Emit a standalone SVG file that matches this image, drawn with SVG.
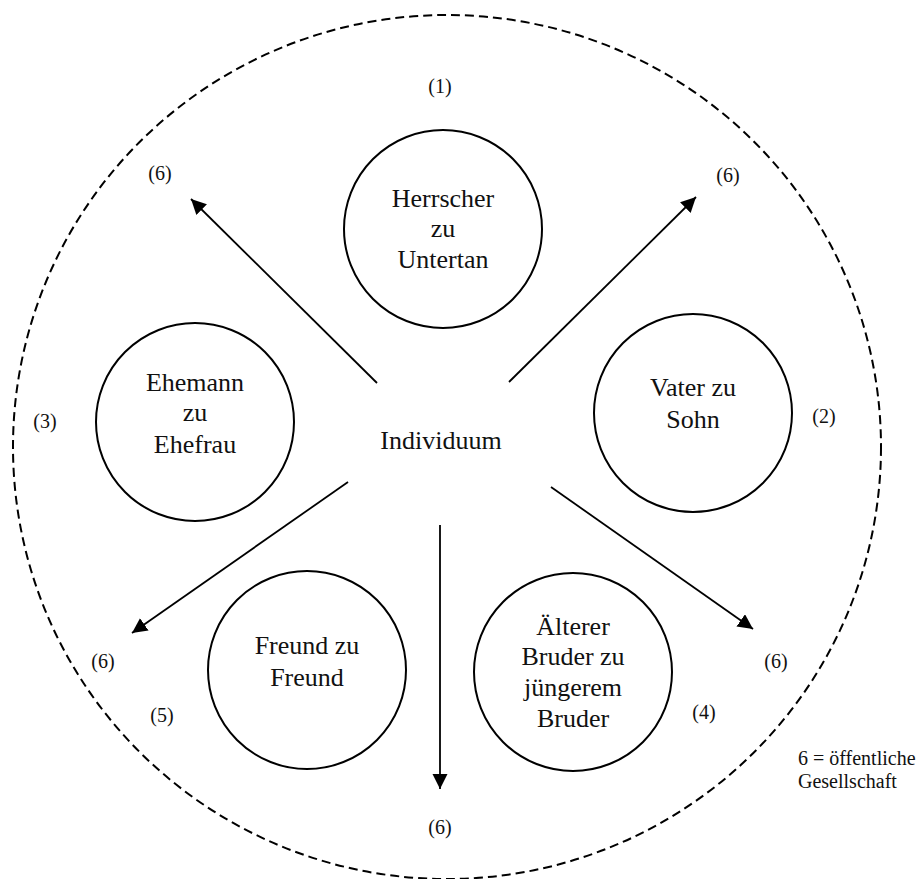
<svg xmlns="http://www.w3.org/2000/svg" width="924" height="879" viewBox="0 0 924 879">
<style>
.node{fill:none;stroke:#000;stroke-width:2}
.t{font-family:"Liberation Serif","Times New Roman",serif;font-size:26px;fill:#111;text-anchor:middle}
.l{font-family:"Liberation Serif","Times New Roman",serif;font-size:20px;fill:#111;text-anchor:middle}
.n{font-family:"Liberation Serif","Times New Roman",serif;font-size:20px;fill:#111}
.c{fill:none;stroke:#000;stroke-width:1.8}
</style>
<defs>
<marker id="ah" markerUnits="userSpaceOnUse" markerWidth="16" markerHeight="16" refX="15" refY="7.5" orient="auto">
<path d="M0,0 L15,7.5 L0,15 Z" fill="#000"/>
</marker>
</defs>
<rect width="924" height="879" fill="#fff"/>
<g id="society">
<ellipse cx="447" cy="447" rx="434" ry="432" fill="none" stroke="#000" stroke-width="2" stroke-dasharray="9 5"/>
</g>
<g id="connectors">
<line class="c" x1="377" y1="383" x2="191" y2="199" marker-end="url(#ah)"/>
<line class="c" x1="509" y1="382" x2="696" y2="197" marker-end="url(#ah)"/>
<line class="c" x1="348" y1="482" x2="132" y2="633" marker-end="url(#ah)"/>
<line class="c" x1="551" y1="487" x2="753" y2="629" marker-end="url(#ah)"/>
<line class="c" x1="440" y1="525" x2="440" y2="789" marker-end="url(#ah)"/>
</g>
<g id="individuum">
<text class="t" x="441" y="449">Individuum</text>
</g>
<g id="herrscher">
<circle class="node" cx="443" cy="229" r="99"/>
<text class="t" x="443" y="207">Herrscher</text>
<text class="t" x="443" y="237">zu</text>
<text class="t" x="443" y="268">Untertan</text>
</g>
<g id="vater">
<circle class="node" cx="693" cy="413" r="99"/>
<text class="t" x="693" y="396">Vater zu</text>
<text class="t" x="693" y="428">Sohn</text>
</g>
<g id="ehemann">
<circle class="node" cx="195" cy="422" r="99"/>
<text class="t" x="195" y="391">Ehemann</text>
<text class="t" x="195" y="421">zu</text>
<text class="t" x="195" y="453">Ehefrau</text>
</g>
<g id="bruder">
<circle class="node" cx="573" cy="672" r="99"/>
<text class="t" x="573" y="635">Älterer</text>
<text class="t" x="573" y="665">Bruder zu</text>
<text class="t" x="573" y="696">jüngerem</text>
<text class="t" x="573" y="727">Bruder</text>
</g>
<g id="freund">
<circle class="node" cx="307" cy="670" r="99"/>
<text class="t" x="307" y="654">Freund zu</text>
<text class="t" x="307" y="686">Freund</text>
</g>
<g id="labels">
<text class="l" x="440" y="93">(1)</text>
<text class="l" x="824" y="423">(2)</text>
<text class="l" x="45" y="428">(3)</text>
<text class="l" x="704" y="719">(4)</text>
<text class="l" x="162" y="722">(5)</text>
<text class="l" x="160" y="180">(6)</text>
<text class="l" x="728" y="182">(6)</text>
<text class="l" x="103" y="668">(6)</text>
<text class="l" x="776" y="668">(6)</text>
<text class="l" x="440" y="834">(6)</text>
</g>
<g id="legend">
<text class="n" x="798" y="765">6 = öffentliche</text>
<text class="n" x="798" y="788">Gesellschaft</text>
</g>
</svg>
